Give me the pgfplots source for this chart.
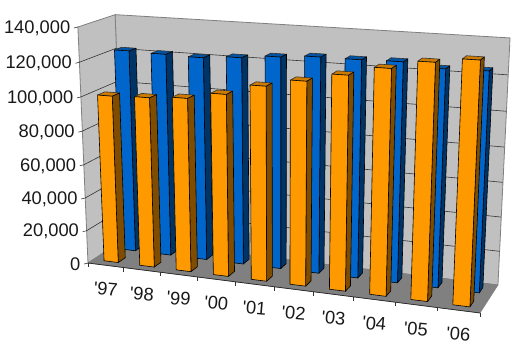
\documentclass[border=0pt]{standalone}
\usepackage{fontspec}
\usepackage{pgfplots}
\usepackage{pgfplotstable}
\pgfplotsset{compat=1.18}
\newfontfamily\lab{Liberation Sans}
\definecolor{ofr}{HTML}{FF9900}
\definecolor{osd}{HTML}{7F4C00}
\definecolor{otp}{HTML}{CC7A00}
\definecolor{bfr}{HTML}{0066CC}
\definecolor{bsd}{HTML}{003366}
\definecolor{btp}{HTML}{0052A3}
\definecolor{wall}{HTML}{C0C0C0}
\definecolor{flr}{HTML}{808080}
% values in thousands
\pgfplotstableread{
year orange blue
97 100.2 122.2
98 101.0 121.7
99 102.4 121.2
00 106.4 122.7
01 112.7 124.6
02 117.1 126.1
03 122.0 126.1
04 127.2 126.5
05 132.0 124.2
06 134.7 124.7
}\data
% projection of (category 0..1, depth 0..1, value 0..1) on to the picture
\newcommand\pj[3]{%
 \pgfmathsetmacro\pw{1-0.097*(#1)+0.05*(#2)-0.05*(#3)}%
 \pgfmathsetmacro\rx{(88+345.4*(#1)+41.15*(#2)-14*(#3))/\pw}%
 \pgfmathsetmacro\ry{(263+19.6*(#1)-11*(#2)-237.35*(#3))/\pw}}
\newcommand\startp{\def\pts{}}
\newcommand\addp[3]{\pj{#1}{#2}{#3}\edef\pts{\pts(\rx,\ry)}}
\newcommand\face[1]{\edef\tmp{\noexpand\addplot[#1] coordinates {\pts} -- cycle;}\tmp}
\newcommand\oline[1]{\edef\tmp{\noexpand\addplot[#1] coordinates {\pts};}\tmp}
% bar: cat index, depth from, depth to, value (thousands), colours
\newcommand\drawbar[7]{%
 \pgfmathsetmacro\xa{(#1+0.3)/10}\pgfmathsetmacro\xb{(#1+0.7)/10}%
 \pgfmathsetmacro\zz{#4/140}%
 \startp\addp{\xa}{#3}{\zz}\addp{\xb}{#3}{\zz}\addp{\xb}{#2}{\zz}\addp{\xa}{#2}{\zz}%
 \face{fill=#7,draw=black!80,line width=0.6bp,line join=round}%
 \startp\addp{\xb}{#2}{0}\addp{\xb}{#3}{0}\addp{\xb}{#3}{\zz}\addp{\xb}{#2}{\zz}%
 \face{fill=#6,draw=black,line width=0.6bp,line join=round}%
 \startp\addp{\xa}{#2}{0}\addp{\xb}{#2}{0}\addp{\xb}{#2}{\zz}\addp{\xa}{#2}{\zz}%
 \face{fill=#5,draw=black,line width=0.6bp,line join=round}}
\newcommand\gridl[1]{%
 \pgfmathsetmacro\zg{#1/140}%
 \startp\addp{0}{0}{\zg}\addp{0}{1}{\zg}\addp{1}{1}{\zg}%
 \oline{color=black!80,line width=0.6bp}}
\newcommand\vallab[2]{%
 \pgfmathsetmacro\zg{#1/140}%
 \pj{0}{0}{\zg}%
 \pgfmathsetmacro\xt{\rx-4}\pgfmathsetmacro\yt{\ry+1}%
 \edef\tmp{\noexpand\addplot[color=black!80,line width=0.6bp] coordinates {(\rx,\ry)(\xt,\yt)};}\tmp
 \pgfmathsetmacro\xl{\rx-7.5}\pgfmathsetmacro\yl{\ry+1}%
 \edef\tmp{\noexpand\node[anchor=east,inner sep=0pt,text=black!90] at (axis cs:\xl,\yl) {\noexpand\lab\noexpand\fontsize{18.3bp}{20bp}\noexpand\selectfont #2};}\tmp}
\begin{document}
\begin{tikzpicture}
\path[use as bounding box] (0,0) rectangle (521bp,354bp);
\begin{axis}[at={(0,0)},anchor=south west,scale only axis,width=521bp,height=354bp,
  xmin=0,xmax=521,ymin=0,ymax=354,y dir=reverse,hide axis,clip=false]
% walls and floor
\startp\addp{0}{1}{0}\addp{1}{1}{0}\addp{1}{1}{1}\addp{0}{1}{1}
\face{fill=wall,draw=flr,line width=0.8bp}
\startp\addp{0}{0}{0}\addp{0}{1}{0}\addp{0}{1}{1}\addp{0}{0}{1}
\face{fill=wall,draw=flr,line width=0.8bp}
\startp\addp{0}{0}{0}\addp{1}{0}{0}\addp{1}{1}{0}\addp{0}{1}{0}
\face{fill=flr,draw=flr,line width=0.6bp}
% gridlines, ticks and value labels
\gridl{20}\gridl{40}\gridl{60}\gridl{80}\gridl{100}\gridl{120}
\vallab{0}{0}\vallab{20}{20,000}\vallab{40}{40,000}\vallab{60}{60,000}
\vallab{80}{80,000}\vallab{100}{100,000}\vallab{120}{120,000}\vallab{140}{140,000}
% floor front edge and category ticks
\startp\addp{0}{0}{0}\addp{1}{0}{0}
\oline{color=black!85,line width=0.7bp}
\pgfplotsforeachungrouped \i in {0,...,10}{%
 \pgfmathsetmacro\xg{\i/10}\pj{\xg}{0}{0}%
 \pgfmathsetmacro\yt{\ry+4}%
 \edef\tmp{\noexpand\addplot[color=black!80,line width=0.6bp] coordinates {(\rx,\ry)(\rx,\yt)};}\tmp
}
% blue series (back), then orange series (front)
\pgfplotsforeachungrouped \i in {0,...,9}{%
 \pgfplotstablegetelem{\i}{blue}\of\data \let\val\pgfplotsretval
 \drawbar{\i}{0.65}{0.85}{\val}{bfr}{bsd}{btp}%
}
\pgfplotsforeachungrouped \i in {0,...,9}{%
 \pgfplotstablegetelem{\i}{orange}\of\data \let\val\pgfplotsretval
 \drawbar{\i}{0.15}{0.35}{\val}{ofr}{osd}{otp}%
}
% category labels
\pgfplotsforeachungrouped \i/\t in {0/97,1/98,2/99,3/00,4/01,5/02,6/03,7/04,8/05,9/06}{%
 \pgfmathsetmacro\xg{(\i+0.5)/10}\pj{\xg}{0}{0}%
 \pgfmathsetmacro\yl{\ry+24}%
 \edef\tmp{\noexpand\node[rotate=-5,inner sep=0pt,text=black!90] at (axis cs:\rx,\yl) {\noexpand\lab\noexpand\fontsize{18.3bp}{20bp}\noexpand\selectfont '\t};}\tmp
}
\end{axis}
\end{tikzpicture}
\end{document}
